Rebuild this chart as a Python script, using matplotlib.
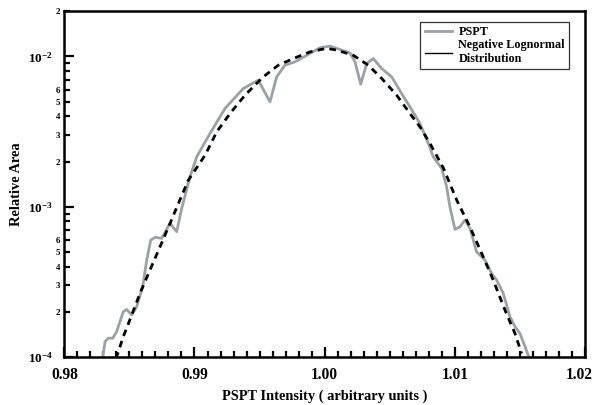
"""Log-scale PSPT intensity distribution with its negative lognormal fit."""

import matplotlib

matplotlib.use("Agg")
import matplotlib.pyplot as plt
from matplotlib.lines import Line2D
from matplotlib.ticker import FixedLocator, FixedFormatter
from matplotlib.transforms import ScaledTranslation

pspt_x = [0.98295, 0.98313, 0.98338, 0.98372, 0.98402, 0.98453, 0.98479, 0.98518,
          0.98556, 0.98602, 0.98633, 0.98664, 0.98697, 0.98748, 0.98812, 0.98863,
          0.98902, 0.98965, 0.99017, 0.99119, 0.99234, 0.99375, 0.99490, 0.99580,
          0.99631, 0.99695, 0.99772, 0.99862, 0.99964, 1.00041, 1.00118, 1.00195,
          1.00233, 1.00277, 1.00323, 1.00373, 1.00438, 1.00515, 1.00591, 1.00655,
          1.00732, 1.00796, 1.00834, 1.00899, 1.00937, 1.00962, 1.01001, 1.01039,
          1.01078, 1.01116, 1.01167, 1.01231, 1.01283, 1.01321, 1.01372, 1.01423,
          1.01462, 1.01500, 1.01539, 1.01575]
pspt_y = [1.0e-4, 1.27e-4, 1.34e-4, 1.34e-4, 1.48e-4, 2.01e-4, 2.08e-4, 1.91e-4,
          2.17e-4, 2.94e-4, 4.43e-4, 6.01e-4, 6.27e-4, 6.17e-4, 7.76e-4, 6.83e-4,
          9.76e-4, 1.58e-3, 2.15e-3, 3.07e-3, 4.50e-3, 6.11e-3, 6.94e-3, 4.98e-3,
          7.30e-3, 8.73e-3, 9.19e-3, 1.016e-2, 1.14e-2, 1.17e-2, 1.11e-2, 1.05e-2,
          9.19e-3, 6.53e-3, 8.96e-3, 9.66e-3, 8.30e-3, 7.30e-3, 5.66e-3, 4.62e-3,
          3.58e-3, 2.64e-3, 2.15e-3, 1.80e-3, 1.36e-3, 1.0e-3, 7.08e-4, 7.36e-4,
          8.17e-4, 7.19e-4, 5.02e-4, 4.43e-4, 3.61e-4, 3.26e-4, 2.66e-4, 1.86e-4,
          1.60e-4, 1.44e-4, 1.18e-4, 0.97e-4]

# negative lognormal fit
fit_x = [0.98397, 0.98453, 0.98518, 0.98581, 0.98658, 0.98735, 0.98812, 0.98876,
         0.98952, 0.99081, 0.99171, 0.99273, 0.99388, 0.99528, 0.99644, 0.99759,
         0.99887, 1.00015, 1.00092, 1.00220, 1.00335, 1.00438, 1.00553, 1.00655,
         1.00732, 1.00809, 1.00912, 1.01014, 1.01116, 1.01206, 1.01295, 1.01385,
         1.01462, 1.01513]
fit_y = [0.98e-4, 1.37e-4, 1.91e-4, 2.66e-4, 3.80e-4, 5.42e-4, 7.76e-4, 1.05e-3,
         1.50e-3, 2.20e-3, 3.15e-3, 4.17e-3, 5.52e-3, 7.30e-3, 8.73e-3, 9.66e-3,
         1.07e-2, 1.13e-2, 1.10e-2, 1.016e-2, 8.73e-3, 7.13e-3, 5.52e-3, 4.17e-3,
         3.40e-3, 2.64e-3, 1.81e-3, 1.11e-3, 7.36e-4, 4.91e-4, 3.26e-4, 2.06e-4,
         1.44e-4, 1.06e-4]

x_ticks = [0.98, 0.99, 1.00, 1.01, 1.02]
x_tick_labels = ["0.98", "0.99", "1.00", "1.01", "1.02"]
y_major = [1e-4, 1e-3, 1e-2]
y_major_labels = [r"$10^{-4}$", r"$10^{-3}$", r"$10^{-2}$"]
y_minor_labelled = [2, 3, 4, 5, 6]

plt.rcParams["font.family"] = ["Liberation Serif", "DejaVu Serif"]
plt.rcParams["font.weight"] = "bold"
plt.rcParams["mathtext.fontset"] = "custom"
plt.rcParams["mathtext.rm"] = "Liberation Serif:bold"
plt.rcParams["mathtext.it"] = "Liberation Serif:bold"
plt.rcParams["mathtext.bf"] = "Liberation Serif:bold"

fig = plt.figure(figsize=(5.95, 4.05), dpi=100)
ax = fig.add_axes([0.1081, 0.1178, 0.8751, 0.855])

ax.plot(pspt_x, pspt_y, color="#9ba1a6", lw=2.0, solid_joinstyle="round")
ax.plot(fit_x, fit_y, color="black", lw=2.0, dashes=(2.4, 1.9))

ax.set_yscale("log")
ax.set_xlim(0.98, 1.02)
ax.set_ylim(1e-4, 2e-2)

for s in ax.spines.values():
    s.set_linewidth(1.8)

# x ticks
ax.xaxis.set_major_locator(FixedLocator(x_ticks))
ax.xaxis.set_major_formatter(FixedFormatter(x_tick_labels))
x_minor = [0.98 + 0.001 * i for i in range(41) if i % 10]
ax.xaxis.set_minor_locator(FixedLocator(x_minor))

# y ticks
ax.yaxis.set_major_locator(FixedLocator(y_major))
ax.yaxis.set_major_formatter(FixedFormatter(y_major_labels))
y_minor = [m * d for d in (1e-4, 1e-3) for m in range(2, 10)] + [2e-2]
y_minor_lab = []
for d in (1e-4, 1e-3):
    for m in range(2, 10):
        y_minor_lab.append(str(m) if m in y_minor_labelled else "")
y_minor_lab.append("2")
ax.yaxis.set_minor_locator(FixedLocator(y_minor))
ax.yaxis.set_minor_formatter(FixedFormatter(y_minor_lab))

ax.tick_params(which="both", direction="in", top=False, right=False, width=1.6)
ax.tick_params(which="major", length=7)
ax.tick_params(which="minor", length=4.5)
ax.tick_params(axis="x", which="major", labelsize=11.2, pad=7)
ax.tick_params(axis="y", which="major", labelsize=9.5, pad=8)
ax.tick_params(axis="y", which="minor", labelsize=6.5, pad=3)
for lab in ax.get_xticklabels() + ax.get_yticklabels(which="both"):
    lab.set_fontweight("bold")

# last x label sits a bit left of its tick, as in the original
last = ax.get_xticklabels()[-1]
last.set_transform(last.get_transform() + ScaledTranslation(-4 / 72, 0, fig.dpi_scale_trans))

ax.set_xlabel("PSPT Intensity ( arbitrary units )", fontsize=10.4, fontweight="bold", labelpad=5)
ax.set_ylabel("Relative Area", fontsize=10.4, fontweight="bold", labelpad=3.5)

handles = [Line2D([], [], color="#9ba1a6", lw=2.0),
           Line2D([], [], color="black", lw=1.0)]
leg = ax.legend(handles, ["PSPT", "Negative Lognormal\nDistribution"],
                loc="upper right", bbox_to_anchor=(0.981, 0.986),
                prop={"size": 8.7, "weight": "bold"}, frameon=True, fancybox=False,
                handlelength=2.3, handletextpad=0.5, borderpad=0.35, labelspacing=0.1)
leg.get_frame().set_edgecolor("black")
leg.get_frame().set_linewidth(0.9)

fig.savefig("out.png", dpi=100)
